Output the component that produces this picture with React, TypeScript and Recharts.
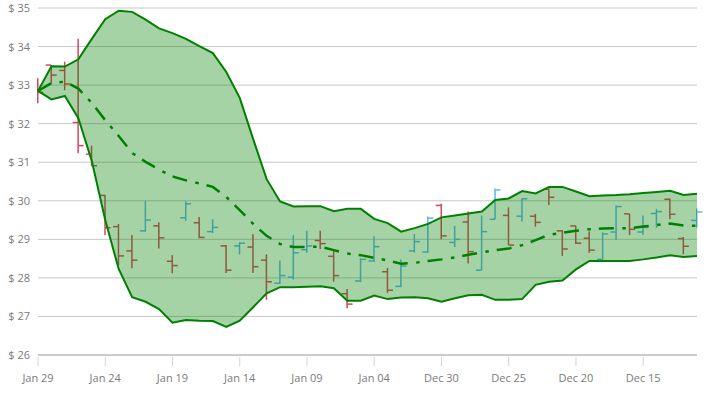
import React from "react";
import { Area, Bar, CartesianGrid, ComposedChart, Line, XAxis, YAxis } from "recharts";

// newest day on the left, going back one day per point
const dates = [
  "Jan 29", "Jan 28", "Jan 27", "Jan 26", "Jan 25", "Jan 24", "Jan 23", "Jan 22", "Jan 21", "Jan 20",
  "Jan 19", "Jan 18", "Jan 17", "Jan 16", "Jan 15", "Jan 14", "Jan 13", "Jan 12", "Jan 11", "Jan 10",
  "Jan 09", "Jan 08", "Jan 07", "Jan 06", "Jan 05", "Jan 04", "Jan 03", "Jan 02", "Jan 01", "Dec 31",
  "Dec 30", "Dec 29", "Dec 28", "Dec 27", "Dec 26", "Dec 25", "Dec 24", "Dec 23", "Dec 22", "Dec 21",
  "Dec 20", "Dec 19", "Dec 18", "Dec 17", "Dec 16", "Dec 15", "Dec 14", "Dec 13", "Dec 12", "Dec 11",
];

const openPrices = [
  33.03, 33.52, 33.38, 32.03, 31.21, 30.14, 29.33, 28.7, 29.22, 29.35,
  28.43, 29.56, 29.43, 29.2, 28.83, 28.83, 28.8, 28.46, 27.86, 28.02,
  28.73, 28.97, 28.56, 27.59, 27.92, 28.44, 28.16, 27.78, 28.7, 28.67,
  29.88, 28.92, 29.45, 28.2, 29.52, 29.62, 29.6, 29.6, 30.3, 29.22,
  29.35, 29.03, 28.48, 29.19, 29.66, 29.19, 29.67, 30.04, 29.02, 29.49,
];
const highPrices = [
  33.18, 33.52, 33.61, 34.2, 31.43, 30.15, 29.4, 29.11, 30.0, 29.44,
  28.59, 29.99, 29.58, 29.52, 28.85, 28.92, 29.13, 28.61, 28.45, 29.11,
  29.22, 29.22, 28.7, 27.71, 28.51, 29.08, 28.26, 28.48, 29.14, 29.59,
  29.92, 29.35, 29.72, 29.62, 30.32, 29.83, 30.06, 29.66, 30.32, 29.24,
  29.35, 29.2, 29.18, 29.88, 29.66, 29.62, 29.79, 30.06, 29.06, 29.8,
];
const lowPrices = [
  32.53, 33.02, 32.87, 31.23, 30.9, 29.11, 28.33, 28.25, 29.2, 28.76,
  28.12, 29.48, 29.03, 29.16, 28.13, 28.61, 28.13, 27.43, 27.84, 27.96,
  28.65, 28.75, 27.9, 27.21, 27.89, 28.41, 27.61, 27.76, 28.66, 28.65,
  29.0, 28.8, 28.37, 28.2, 29.52, 28.85, 29.46, 29.33, 29.89, 28.57,
  28.88, 28.65, 28.48, 28.98, 29.11, 29.11, 29.3, 29.52, 28.61, 29.31,
];
const closePrices = [
  32.81, 33.26, 33.03, 31.43, 30.91, 29.3, 28.57, 28.46, 29.5, 29.04,
  28.32, 29.92, 29.05, 29.31, 28.2, 28.9, 28.29, 27.9, 28.06, 28.65,
  28.83, 28.89, 28.06, 27.32, 28.48, 28.81, 27.68, 28.31, 28.94, 29.55,
  29.09, 29.0, 28.68, 29.2, 30.28, 28.85, 30.05, 29.44, 30.09, 28.75,
  28.9, 28.72, 29.14, 29.85, 29.26, 29.31, 29.72, 29.65, 28.82, 29.71,
];

// bollinger bands
const upperBand = [
  32.85, 33.49, 33.48, 33.67, 34.2, 34.71, 34.93, 34.9, 34.7, 34.47,
  34.35, 34.2, 34.01, 33.83, 33.34, 32.67, 31.6, 30.56, 29.98, 29.85,
  29.86, 29.86, 29.73, 29.79, 29.79, 29.53, 29.42, 29.2, 29.29, 29.4,
  29.57, 29.62, 29.67, 29.72, 30.02, 30.06, 30.25, 30.19, 30.36, 30.36,
  30.24, 30.12, 30.14, 30.15, 30.17, 30.2, 30.23, 30.26, 30.15, 30.18,
];
const middleBand = [
  32.85, 33.05, 33.09, 32.91, 32.54, 32.09, 31.68, 31.24, 31.01, 30.81,
  30.63, 30.53, 30.45, 30.36, 30.1, 29.76, 29.4, 29.09, 28.88, 28.8,
  28.8, 28.81, 28.72, 28.63, 28.59, 28.52, 28.45, 28.37, 28.39, 28.44,
  28.48, 28.53, 28.6, 28.66, 28.72, 28.76, 28.85, 28.98, 29.12, 29.17,
  29.22, 29.26, 29.28, 29.29, 29.29, 29.33, 29.37, 29.41, 29.36, 29.35,
];
const lowerBand = [
  32.85, 32.63, 32.72, 32.14, 31.03, 29.5, 28.23, 27.5, 27.38, 27.19,
  26.84, 26.91, 26.89, 26.88, 26.73, 26.89, 27.24, 27.6, 27.76, 27.76,
  27.77, 27.78, 27.73, 27.41, 27.41, 27.54, 27.45, 27.49, 27.5, 27.47,
  27.38, 27.47, 27.55, 27.56, 27.43, 27.43, 27.45, 27.82, 27.9, 27.93,
  28.22, 28.44, 28.44, 28.44, 28.44, 28.48, 28.53, 28.59, 28.54, 28.57,
];

const priceTicks = [26, 27, 28, 29, 30, 31, 32, 33, 34, 35];
const dateTicks = [0, 5, 10, 15, 20, 25, 30, 35, 40, 45];

const FONT = "'Open Sans', 'Noto Sans', sans-serif";
const GREEN = "#008000";
const UP = "#5fb4f2";
const DOWN = "#d9455c";

const rows = dates.map((date, i) => ({
  idx: i,
  date,
  open: openPrices[i],
  high: highPrices[i],
  low: lowPrices[i],
  close: closePrices[i],
  hl: [lowPrices[i], highPrices[i]],
  band: [lowerBand[i], upperBand[i]],
  upper: upperBand[i],
  middle: middleBand[i],
  lower: lowerBand[i],
}));

function OhlcShape(props: any) {
  const { x, y, width, height, payload } = props;
  if (x == null || y == null || !payload) return null;
  const top = Math.min(y, y + height);
  const bottom = Math.max(y, y + height);
  const { open, high, low, close } = payload;
  const span = high - low || 1;
  const toY = (p: number) => top + ((high - p) / span) * (bottom - top);
  const cx = x + width / 2;
  const color = close >= open ? UP : DOWN;
  return (
    <g stroke={color} strokeWidth={1.5}>
      <line x1={cx} x2={cx} y1={top} y2={bottom} />
      {/* the oldest-left bar of the plot has its open tick cut by the frame */}
      {payload.idx > 0 && <line x1={cx - 5.5} x2={cx} y1={toY(open)} y2={toY(open)} />}
      <line x1={cx} x2={cx + 5.5} y1={toY(close)} y2={toY(close)} />
    </g>
  );
}

function DateTick({ x, y, payload }: any) {
  return (
    <g>
      <line x1={x} x2={x} y1={y + 2} y2={y + 11} stroke="#d4d4d4" />
      <text x={x} y={y + 27} textAnchor="middle" fill="#7a7a7a" fontSize={11} fontFamily={FONT}>
        {dates[payload.value]}
      </text>
    </g>
  );
}

function PriceTick({ x, y, payload }: any) {
  return (
    <text x={x} y={y + 4} textAnchor="end" fill="#7a7a7a" fontSize={11} fontFamily={FONT}>
      {`$ ${payload.value}`}
    </text>
  );
}

export default function App() {
  return (
    <div style={{ position: "absolute", left: 0, top: 0, width: 716, height: 397, background: "#fff" }}>
      <ComposedChart
        width={716}
        height={397}
        data={rows}
        margin={{ top: 8, right: 19, left: 0, bottom: 0 }}
      >
        <CartesianGrid vertical={false} stroke="#c8c8c8" />
        <XAxis
          type="number"
          dataKey="idx"
          domain={[0, 49]}
          ticks={dateTicks}
          interval={0}
          height={42}
          tickSize={0}
          tickMargin={0}
          tickLine={false}
          axisLine={{ stroke: "#b4b4b4" }}
          tick={<DateTick />}
        />
        <YAxis
          type="number"
          domain={[26, 35]}
          ticks={priceTicks}
          interval={0}
          width={38}
          tickSize={0}
          tickMargin={8}
          tickLine={false}
          axisLine={false}
          tick={<PriceTick />}
        />
        {/* price bars sit under the translucent band */}
        <Bar
          dataKey="hl"
          barSize={11}
          zIndex={50}
          shape={(p: any) => <OhlcShape {...p} />}
          isAnimationActive={false}
        />
        <Area
          type="linear"
          dataKey="band"
          stroke="none"
          fill={GREEN}
          fillOpacity={0.35}
          zIndex={100}
          isAnimationActive={false}
        />
        <Line type="linear" dataKey="upper" stroke={GREEN} strokeWidth={2} dot={false} isAnimationActive={false} />
        <Line type="linear" dataKey="lower" stroke={GREEN} strokeWidth={2} dot={false} isAnimationActive={false} />
        <Line
          type="linear"
          dataKey="middle"
          stroke={GREEN}
          strokeWidth={2.5}
          strokeDasharray="15 8.5 3.5 8"
          dot={false}
          isAnimationActive={false}
        />
      </ComposedChart>
    </div>
  );
}
